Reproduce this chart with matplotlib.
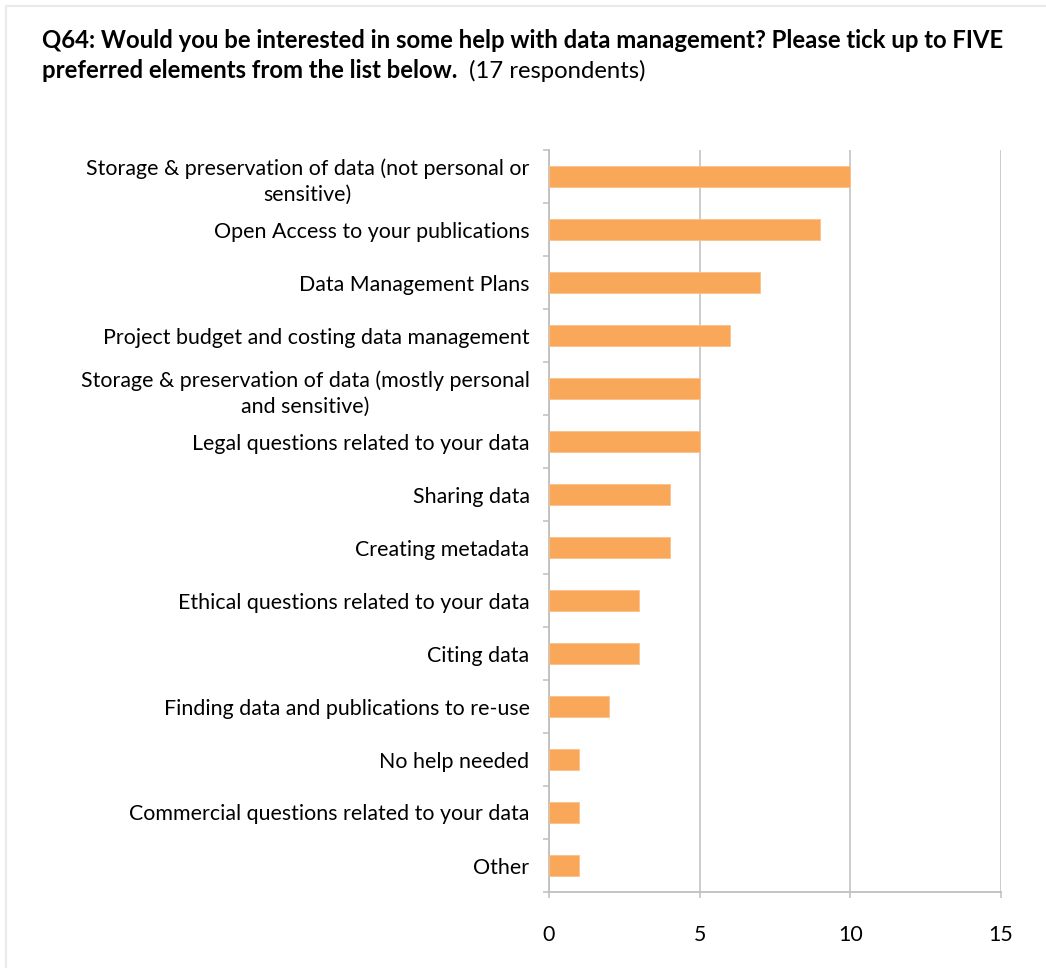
import matplotlib
matplotlib.use('Agg')
import matplotlib.pyplot as plt
import numpy as np

# survey answers, top to bottom
categories = [
    'Storage & preservation of data (not personal or\nsensitive)',
    'Open Access to your publications',
    'Data Management Plans',
    'Project budget and costing data management',
    'Storage & preservation of data (mostly personal\nand sensitive)',
    'Legal questions related to your data',
    'Sharing data',
    'Creating metadata',
    'Ethical questions related to your data',
    'Citing data',
    'Finding data and publications to re-use',
    'No help needed',
    'Commercial questions related to your data',
    'Other',
]
counts = [10, 9, 7, 6, 5, 5, 4, 4, 3, 3, 2, 1, 1, 1]
x_ticks = [0, 5, 10, 15]

bar_color = '#F9A85A'
grid_color = '#BFBFBF'
font = ['Lato', 'DejaVu Sans']
plt.rcParams['font.family'] = font

fig = plt.figure(figsize=(10.46, 9.68), dpi=100)
ax = fig.add_axes([549 / 1046, 1 - 892 / 968, 452 / 1046, 742 / 968])

# light frame around the whole chart (left and top edges visible)
fig.patches.append(plt.Rectangle((5.5 / 1046, -0.01), 1.05, 1 - 6 / 968 + 0.01,
                                 transform=fig.transFigure, fill=False,
                                 edgecolor='#EAEAEA', linewidth=1.5))

ypos = np.arange(len(categories))
ax.barh(ypos, counts, height=0.4, color=bar_color, edgecolor='#FBC08A',
        linewidth=0.6, zorder=3)

ax.set_xlim(0, 15)
ax.set_ylim(len(categories) - 0.5, -0.5)
ax.set_xticks(x_ticks)
ax.set_xticklabels([str(t) for t in x_ticks], fontsize=15.4)
ax.set_yticks(ypos)
ax.set_yticklabels(categories, fontsize=15.4)
for lbl in ax.get_yticklabels():
    lbl.set_multialignment('center')
    lbl.set_linespacing(1.4)

# category boundary ticks on the y axis
ax.set_yticks(np.arange(-0.5, len(categories)), minor=True)
ax.tick_params(axis='y', which='major', length=0, pad=14)
ax.tick_params(axis='y', which='minor', length=4.5, color=grid_color, width=1.1)
ax.tick_params(axis='x', length=4.5, color=grid_color, width=1.1, pad=19)

ax.xaxis.grid(True, color=grid_color, linewidth=1.1, zorder=0)
ax.set_axisbelow(True)
for s in ['top', 'right']:
    ax.spines[s].set_visible(False)
for s in ['left', 'bottom']:
    ax.spines[s].set_color(grid_color)
    ax.spines[s].set_linewidth(1.3)

# title: bold question plus normal respondent count
fig.text(42 / 1046, 1 - 48 / 968, 'Q64: Would you be interested in some help with data management? Please tick up to FIVE',
         fontsize=17.2, fontweight='bold', ha='left', va='baseline')
t2 = fig.text(42 / 1046, 1 - 78 / 968, 'preferred elements from the list below.',
              fontsize=17.2, fontweight='bold', ha='left', va='baseline')
fig.canvas.draw()
bb = t2.get_window_extent(renderer=fig.canvas.get_renderer())
fig.text((bb.x1 + 12) / 1046, 1 - 78 / 968, '(17 respondents)',
         fontsize=17.2, ha='left', va='baseline')

fig.savefig('out.png', dpi=100)
